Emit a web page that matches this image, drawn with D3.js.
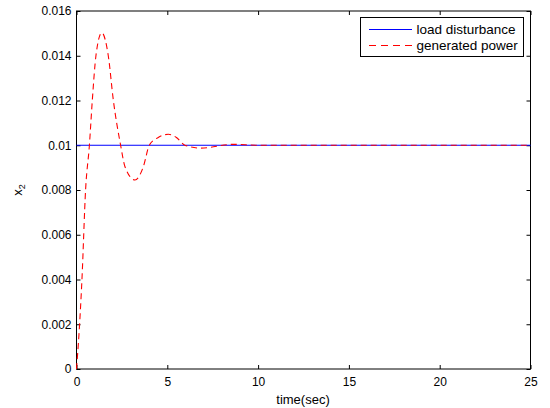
<!DOCTYPE html>
<html>
<head>
<meta charset="utf-8">
<script src="https://cdn.jsdelivr.net/npm/d3@7"></script>
<style>
  body { margin: 0; background: #fff; }
  text { font-family: "Liberation Sans", Arial, sans-serif; fill: #000; }
</style>
</head>
<body>
<script>
// values
const time = [0, 0.14, 0.3, 0.5, 0.71, 0.87, 1.07, 1.39, 1.75, 2.03, 2.43, 2.67, 3.22, 3.68, 4.01, 4.5, 5.06, 5.5, 5.97, 6.85, 8.6, 10, 12, 15, 20, 25];
const power = [0, 0.0016, 0.004, 0.008, 0.01, 0.012, 0.014, 0.01503, 0.014, 0.012, 0.01, 0.00904, 0.00845, 0.00904, 0.01, 0.01035, 0.01049, 0.01035, 0.01, 0.00987, 0.01004, 0.01, 0.01, 0.01, 0.01, 0.01];
const loadT = [0, 25];
const loadV = [0.01, 0.01];
const xTicks = [0, 5, 10, 15, 20, 25];
const yTicks = [0, 0.002, 0.004, 0.006, 0.008, 0.01, 0.012, 0.014, 0.016];
const legendNames = ["load disturbance", "generated power"];

const W = 550, H = 408;
const mLeft = 76.5, mRight = 530.5, mTop = 11, mBottom = 369;

const svg = d3.select("body").append("svg").attr("width", W).attr("height", H);

const x = d3.scaleLinear().domain([0, 25]).range([mLeft, mRight]);
const y = d3.scaleLinear().domain([0, 0.016]).range([mBottom, mTop]);

const fmtY = d => d === 0 ? "0" : String(+d.toFixed(3));

// bottom + left axes, ticks pointing inward
svg.append("g").attr("transform", `translate(0,${mBottom})`)
    .call(d3.axisBottom(x).tickValues(xTicks).tickSizeInner(-4).tickSizeOuter(0).tickPadding(8.5))
    .call(g => g.select(".domain").remove())
    .selectAll("text").attr("font-size", 12);
svg.append("g").attr("transform", `translate(${mLeft},0)`)
    .call(d3.axisLeft(y).tickValues(yTicks).tickFormat(fmtY).tickSizeInner(-4).tickSizeOuter(0).tickPadding(5))
    .call(g => g.select(".domain").remove())
    .selectAll("text").attr("font-size", 12);
// top + right ticks (box)
svg.append("g").attr("transform", `translate(0,${mTop})`)
    .call(d3.axisTop(x).tickValues(xTicks).tickFormat("").tickSizeInner(-4).tickSizeOuter(0))
    .call(g => g.select(".domain").remove());
svg.append("g").attr("transform", `translate(${mRight},0)`)
    .call(d3.axisRight(y).tickValues(yTicks).tickFormat("").tickSizeInner(-4).tickSizeOuter(0))
    .call(g => g.select(".domain").remove());

svg.append("rect")
    .attr("x", mLeft).attr("y", mTop)
    .attr("width", mRight - mLeft).attr("height", mBottom - mTop)
    .attr("fill", "none").attr("stroke", "#000").attr("stroke-width", 1);

const line = d3.line().x(d => x(d[0])).y(d => y(d[1]));

svg.append("path")
    .datum(d3.zip(loadT, loadV))
    .attr("d", line)
    .attr("fill", "none").attr("stroke", "#0000ff").attr("stroke-width", 1);

svg.append("path")
    .datum(d3.zip(time, power))
    .attr("d", line.curve(d3.curveMonotoneX))
    .attr("fill", "none").attr("stroke", "#ff0000").attr("stroke-width", 1.1)
    .attr("stroke-dasharray", "6,4");

// legend
const lg = svg.append("g");
lg.append("rect")
    .attr("x", 360.5).attr("y", 17.5).attr("width", 163).attr("height", 39)
    .attr("fill", "#fff").attr("stroke", "#000");
const legendColors = ["#0000ff", "#ff0000"];
const legendDash = ["none", "7,5"];
legendNames.forEach(function(name, i) {
  const ly = 29.5 + i * 16;
  lg.append("line")
      .attr("x1", 369).attr("x2", 412).attr("y1", ly).attr("y2", ly)
      .attr("stroke", legendColors[i]).attr("stroke-width", 1)
      .attr("stroke-dasharray", legendDash[i]);
  lg.append("text")
      .attr("x", 416.5).attr("y", ly).attr("dy", "0.35em")
      .attr("font-size", 13.5).text(name);
});

// axis labels
svg.append("text")
    .attr("x", 303).attr("y", 404)
    .attr("text-anchor", "middle").attr("font-size", 13)
    .text("time(sec)");
const yl = svg.append("text")
    .attr("transform", "translate(22,190) rotate(-90)")
    .attr("text-anchor", "middle").attr("font-size", 13);
yl.append("tspan").text("x");
yl.append("tspan").attr("font-size", 9).attr("dy", 3).text("2");
</script>
</body>
</html>
